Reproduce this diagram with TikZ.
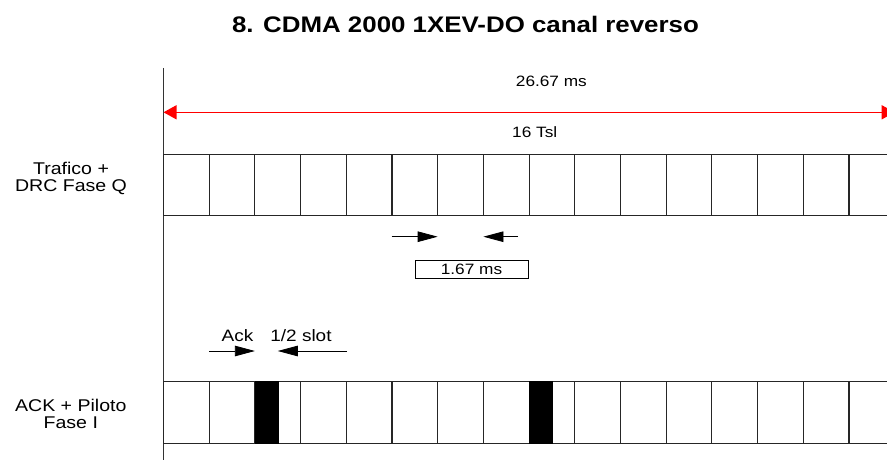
\documentclass[tikz,border=0pt]{standalone}
\usepackage{fontspec}
\setmainfont{Liberation Sans}[FakeStretch=1.15]
\usetikzlibrary{arrows.meta}
\begin{document}
\begin{tikzpicture}[x=1pt,y=-1pt,
  slotbox/.style={draw=black!85, line width=1.1pt, minimum width=45.7pt, minimum height=61.4pt, inner sep=0pt, outer sep=0pt},
  lbl/.style={font=\fontsize{17}{16.5}\selectfont, align=center, inner sep=0pt},
  smalltxt/.style={font=\fontsize{15}{17}\selectfont, inner sep=0pt},
  acktxt/.style={font=\fontsize{16.5}{17}\selectfont, inner sep=0pt},
  blk/.style={fill=black, draw=black, line width=0.5pt},
  ptr/.style={-{Triangle[length=20pt,width=10.5pt]}, line width=0.8pt},
  redarr/.style={{Triangle[length=13pt,width=14pt]}-{Triangle[length=13pt,width=14pt]}, draw=red, fill=red, line width=1.4pt},
  axis/.style={draw=black!80, line width=0.9pt}]
\useasboundingbox (0,0) rectangle (887,460);
\clip (0,0) rectangle (887,460);

% title
\node[font=\fontsize{22.5}{24}\selectfont\bfseries, inner sep=0pt] (title) at (465.5,24) {8. CDMA 2000 1XEV-DO canal reverso};

% time axis
\coordinate (axtop) at (163.5,68);
\coordinate (axbot) at (163.5,460);
\draw[axis] (axtop) -- (axbot);

% total duration arrow
\coordinate (rl) at (163.5,112.3);
\coordinate (rr) at (894.7,112.3);
\draw[redarr] (rl) -- (rr);
\node[smalltxt] (dur) at (551.4,81.3) {26.67 ms};
\node[smalltxt] (tsl) at (534.7,132.5) {16 Tsl};

% row labels
\node[lbl] (lq) at (71,178.2) {Trafico +\\DRC Fase Q};
\node[lbl] (li) at (70.8,414) {ACK + Piloto\\Fase I};

% slots
\foreach \i in {0,...,15}{
  \node[slotbox] (t\i) at ({163.5+45.7*\i+22.85},185) {};
  \node[slotbox] (a\i) at ({163.5+45.7*\i+22.85},412.4) {};
}

% black half slots
\fill[blk] (a2.north west) rectangle ([xshift=22.85pt]a2.south west);
\fill[blk] (a8.north west) rectangle ([xshift=22.85pt]a8.south west);

% 1.67 ms
\coordinate (s1) at (391.7,236.7);
\coordinate (s1t) at (t6.south west |- s1);
\coordinate (s2) at (518,236.7);
\coordinate (s2t) at (t7.south west |- s2);
\draw[ptr] (s1) -- (s1t);
\draw[ptr] (s2) -- (s2t);
\node[draw=black, line width=0.8pt, minimum width=113pt, minimum height=18.3pt, inner sep=0pt, font=\fontsize{15}{17}\selectfont] (slotlen) at (471.5,269.2) {1.67 ms};

% Ack 1/2 slot
\coordinate (k1) at (209,351);
\coordinate (k1t) at (a2.north west |- k1);
\coordinate (k2) at (347,351);
\coordinate (k2t) at ([xshift=22.85pt]a2.north west |- k2);
\draw[ptr] (k1) -- (k1t);
\draw[ptr] (k2) -- (k2t);
\node[acktxt] (ack) at (237.5,335.7) {Ack};
\node[acktxt] (half) at (301,336) {1/2 slot};
\end{tikzpicture}
\end{document}
